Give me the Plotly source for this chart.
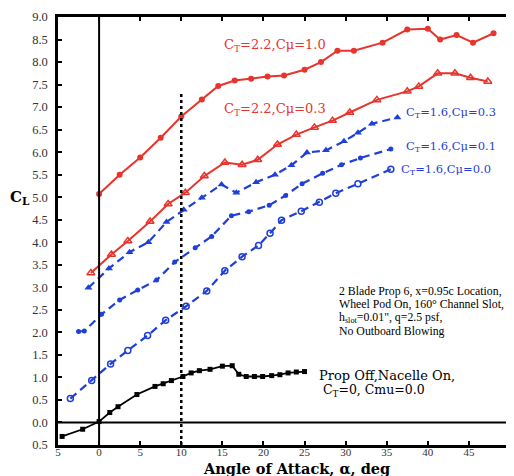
import plotly.graph_objects as go

# ---- data ----
a_red10 = [0, 2.5, 5, 7.5, 10, 12.5, 14.5, 16.5, 18.5, 20.5, 22.5, 25, 27, 29, 31, 34.5, 37.5, 40, 41.5, 43.5, 45.5, 48]
cl_red10 = [5.07, 5.5, 5.88, 6.32, 6.79, 7.17, 7.47, 7.59, 7.63, 7.68, 7.7, 7.83, 8.0, 8.25, 8.25, 8.43, 8.72, 8.74, 8.5, 8.6, 8.43, 8.64]

a_red03 = [-1, 1.5, 3.5, 6.2, 8.4, 10.5, 12.8, 15.3, 17.4, 19.3, 21.7, 24, 26.2, 28.4, 30.5, 33.8, 37.5, 38.9, 41.2, 43.3, 45.2, 47.3]
cl_red03 = [3.32, 3.73, 4.03, 4.46, 4.85, 5.1, 5.47, 5.77, 5.72, 5.83, 6.17, 6.39, 6.55, 6.7, 6.88, 7.16, 7.35, 7.46, 7.75, 7.75, 7.65, 7.57]

a_blu03 = [-1.3, 1.2, 3.7, 6, 8.2, 10.3, 12.5, 14.9, 16.7, 19.1, 21.4, 23.4, 25.3, 27.6, 29.8, 31.5, 33.2, 36.3]
cl_blu03 = [2.99, 3.42, 3.78, 4.0, 4.45, 4.72, 4.99, 5.28, 5.1, 5.33, 5.5, 5.71, 5.99, 6.04, 6.24, 6.43, 6.63, 6.77]

a_blu01 = [-2.5, -1.8, 0.3, 2.5, 4.7, 7.0, 9.2, 11.7, 13.7, 16.1, 18.2, 20.7, 22.7, 24.7, 27.2, 29.5, 31.8, 35.5]
cl_blu01 = [2.02, 2.03, 2.4, 2.72, 2.94, 3.16, 3.56, 3.88, 4.13, 4.59, 4.68, 4.82, 5.04, 5.3, 5.53, 5.72, 5.87, 6.07]

a_blu00 = [-3.5, -0.9, 1.4, 3.5, 5.9, 8.1, 10.6, 13.1, 15.3, 17.4, 19.4, 20.8, 22.2, 24.6, 26.8, 28.8, 31.5, 35.5]
cl_blu00 = [0.53, 0.93, 1.3, 1.6, 1.93, 2.27, 2.58, 2.92, 3.37, 3.68, 3.93, 4.2, 4.49, 4.69, 4.89, 5.09, 5.3, 5.62]

a_off = [-4.5, -2, 0, 1.3, 2.3, 4.6, 6.8, 7.8, 8.8, 10.2, 11.2, 12.2, 13.5, 15, 16.2, 17, 17.9, 18.9, 19.9, 21, 22, 23, 24, 25]
cl_off = [-0.31, -0.15, 0.02, 0.22, 0.35, 0.62, 0.8, 0.86, 0.93, 1.02, 1.1, 1.15, 1.18, 1.25, 1.26, 1.07, 1.02, 1.02, 1.02, 1.04, 1.06, 1.1, 1.12, 1.13]

x_ticks = [-5, 0, 5, 10, 15, 20, 25, 30, 35, 40, 45, 50]
x_ticktext = ["5", "0", "5", "10", "15", "20", "25", "30", "35", "40", "45", "50"]
y_ticks = [-0.5, 0.0, 0.5, 1.0, 1.5, 2.0, 2.5, 3.0, 3.5, 4.0, 4.5, 5.0, 5.5, 6.0, 6.5, 7.0, 7.5, 8.0, 8.5, 9.0]
y_ticktext = ["0.5"] + ["%.1f" % v for v in y_ticks[1:]]

note_lines = ["2 Blade Prop 6, x=0.95c Location,",
              "Wheel Pod On, 160° Channel Slot,",
              "h<sub>slot</sub>=0.01\", q=2.5 psf,",
              "No Outboard Blowing"]

RED = "#e8342c"
BLUE = "#1f3fd8"
FONT = "Liberation Serif"
WIDE = "DejaVu Serif"

fig = go.Figure()

fig.add_trace(go.Scatter(x=a_red10, y=cl_red10, mode="lines+markers",
                         line=dict(color=RED, width=2),
                         marker=dict(symbol="circle", size=6, color=RED)))
fig.add_trace(go.Scatter(x=a_red03, y=cl_red03, mode="lines+markers",
                         line=dict(color=RED, width=2),
                         marker=dict(symbol="triangle-up-open", size=7, color=RED, line=dict(width=1.5))))
fig.add_trace(go.Scatter(x=a_blu03, y=cl_blu03, mode="lines+markers",
                         line=dict(color=BLUE, width=2.2, dash="8px,5px"),
                         marker=dict(symbol="triangle-up", size=7, color=BLUE)))
fig.add_trace(go.Scatter(x=a_blu01, y=cl_blu01, mode="lines+markers",
                         line=dict(color=BLUE, width=2.2, dash="8px,5px"),
                         marker=dict(symbol="circle", size=5, color=BLUE)))
fig.add_trace(go.Scatter(x=a_blu00, y=cl_blu00, mode="lines+markers",
                         line=dict(color=BLUE, width=2.2, dash="8px,5px"),
                         marker=dict(symbol="circle-open", size=6, color=BLUE, line=dict(width=1.5))))
fig.add_trace(go.Scatter(x=a_off, y=cl_off, mode="lines+markers",
                         line=dict(color="black", width=1.8),
                         marker=dict(symbol="square", size=5, color="black")))

shapes = [
    dict(type="line", xref="x", yref="y", x0=0, x1=0, y0=-0.5, y1=9.0,
         line=dict(color="black", width=2)),
    dict(type="line", xref="x", yref="y", x0=-5, x1=50, y0=0, y1=0,
         line=dict(color="black", width=2)),
    dict(type="line", xref="x", yref="y", x0=10, x1=10, y0=-0.5, y1=7.3,
         line=dict(color="black", width=2.5, dash="dot")),
]

ann = []
def add(text, x, y, color="black", size=13, family=WIDE):
    ann.append(dict(text=text, x=x, y=y, xref="x", yref="y", showarrow=False,
                    xanchor="left", yanchor="middle", align="left",
                    font=dict(family=family, size=size, color=color)))

add("C<sub>T</sub>=2.2,Cμ=1.0", 15.0, 8.36, RED, 13)
add("C<sub>T</sub>=2.2,Cμ=0.3", 15.0, 6.95, RED, 13)
add("C<sub>T</sub>=1.6,Cμ=0.3", 37.1, 6.88, BLUE, 11.5)
add("C<sub>T</sub>=1.6,Cμ=0.1", 37.1, 6.13, BLUE, 11.5)
add("C<sub>T</sub>=1.6,Cμ=0.0", 36.5, 5.62, BLUE, 11.5)
for txt, yy in zip(note_lines, [2.92, 2.62, 2.32, 2.02]):
    add(txt, 29.0, yy, "black", 11.8, FONT)
add("Prop Off,Nacelle On,", 26.5, 1.04, "black", 13)
add("C<sub>T</sub>=0, Cmu=0.0", 27.0, 0.71, "black", 12.5)
ann.append(dict(text="<b>C<sub>L</sub></b>", x=-0.083, y=0.579, xref="paper", yref="paper",
                showarrow=False, xanchor="center", yanchor="middle",
                font=dict(family=WIDE, size=15, color="black")))
ann.append(dict(text="<b>Angle of Attack, α, deg</b>", x=0.527, y=-0.054, xref="paper", yref="paper",
                showarrow=False, xanchor="center", yanchor="middle",
                font=dict(family=WIDE, size=14.5, color="black")))

# page body has an 8px margin, so the figure is shifted by 8px; compensate
fig.update_layout(
    width=506, height=468,
    margin=dict(l=50, r=4, t=9, b=31),
    paper_bgcolor="white", plot_bgcolor="white",
    showlegend=False,
    shapes=shapes, annotations=ann,
    font=dict(family=FONT, size=11, color="#333"),
)
common = dict(showgrid=False, zeroline=False, showline=True, mirror="ticks",
              linecolor="black", linewidth=2.5, ticks="inside", ticklen=4,
              tickwidth=1.5, tickcolor="black", automargin=False)
fig.update_xaxes(range=[-5, 50], tickvals=x_ticks, ticktext=x_ticktext,
                 ticklabelstandoff=-5,
                 tickfont=dict(family=FONT, size=11, color="#333"), **common)
fig.update_yaxes(range=[-0.5, 9.0], tickvals=y_ticks, ticktext=y_ticktext,
                 ticklabelstandoff=5,
                 tickfont=dict(family=FONT, size=12.5, color="#333"), **common)

fig.write_html("out.html")
